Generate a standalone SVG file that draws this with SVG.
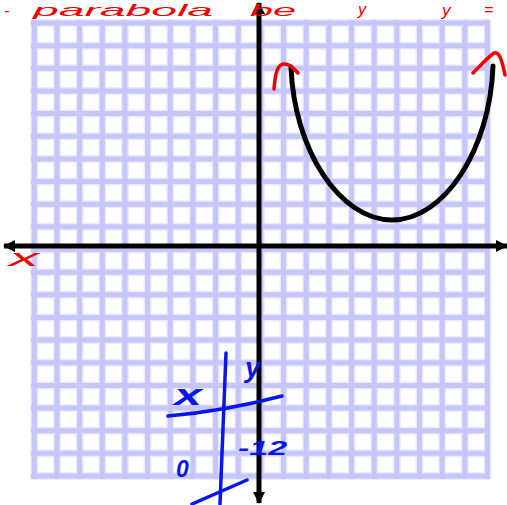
<svg xmlns="http://www.w3.org/2000/svg" width="507" height="505" viewBox="0 0 507 505">
<style>
.gsoft{stroke:#ebebfd;stroke-width:8;fill:none}
.grid{stroke:#c6c6fb;stroke-width:5;fill:none}
.axis{stroke:#000;stroke-width:5;fill:none}
.curve{stroke:#000;stroke-width:5;fill:none;stroke-linecap:round}
.red{stroke:#f20000;stroke-width:3.5;fill:none;stroke-linecap:round;stroke-linejoin:round}
.blue{stroke:#0a14ee;stroke-width:3.5;fill:none;stroke-linecap:round}
.rt{fill:#f20000;font-family:"Liberation Sans",Arial,sans-serif;font-style:italic}
.bt{fill:#0a14ee;font-family:"Liberation Sans",Arial,sans-serif;font-style:italic;font-weight:bold}
</style>
<defs>
<marker id="ah" viewBox="0 0 12 12" refX="11" refY="6" markerWidth="12" markerHeight="12" markerUnits="userSpaceOnUse" orient="auto">
<path d="M0,0 L12,6 L0,12 Z" fill="#000"/>
</marker>
</defs>
<rect width="507" height="505" fill="#fff"/>
<g id="grid">
<path class="gsoft" d="M34.3,20V479M56.96,20V479M79.62,20V479M102.28,20V479M124.94,20V479M147.6,20V479M170.26,20V479M192.92,20V479M215.58,20V479M238.24,20V479M260.9,20V479M283.56,20V479M306.22,20V479M328.88,20V479M351.54,20V479M374.2,20V479M396.86,20V479M419.52,20V479M442.18,20V479M464.84,20V479M487.5,20V479M31,23H490M31,45.65H490M31,68.3H490M31,90.95H490M31,113.6H490M31,136.25H490M31,158.9H490M31,181.55H490M31,204.2H490M31,226.85H490M31,249.5H490M31,272.15H490M31,294.8H490M31,317.45H490M31,340.1H490M31,362.75H490M31,385.4H490M31,408.05H490M31,430.7H490M31,453.35H490M31,476H490"/>
<path class="grid" d="M34.3,20V479M56.96,20V479M79.62,20V479M102.28,20V479M124.94,20V479M147.6,20V479M170.26,20V479M192.92,20V479M215.58,20V479M238.24,20V479M260.9,20V479M283.56,20V479M306.22,20V479M328.88,20V479M351.54,20V479M374.2,20V479M396.86,20V479M419.52,20V479M442.18,20V479M464.84,20V479M487.5,20V479M31,23H490M31,45.65H490M31,68.3H490M31,90.95H490M31,113.6H490M31,136.25H490M31,158.9H490M31,181.55H490M31,204.2H490M31,226.85H490M31,249.5H490M31,272.15H490M31,294.8H490M31,317.45H490M31,340.1H490M31,362.75H490M31,385.4H490M31,408.05H490M31,430.7H490M31,453.35H490M31,476H490"/>
</g>
<g id="axes">
<path class="axis" d="M259,250 V3" marker-end="url(#ah)"/>
<path class="axis" d="M259,250 V503" marker-end="url(#ah)"/>
<path class="axis" d="M259,246 H4" marker-end="url(#ah)"/>
<path class="axis" d="M259,246 H507" marker-end="url(#ah)"/>
</g>
<g id="parabola">
<path class="curve" d="M291,67 C294,150 340,220 392,220 C444,220 490,150 493,66"/>
</g>
<g id="red-notes">
<path class="red" d="M274,89 C275,78 276,68 281,65 C286,62 292,66 298,73"/>
<path class="red" d="M473,73 C480,66 487,58 494,53 C499,51 502,60 505,75"/>
<text class="rt" x="4" y="16" font-size="16">-</text>
<text class="rt" x="33" y="16" font-size="17" textLength="180" lengthAdjust="spacingAndGlyphs">parabola</text>
<text class="rt" x="250" y="16" font-size="17" textLength="46" lengthAdjust="spacingAndGlyphs">be</text>
<text class="rt" x="358" y="15" font-size="16">y</text>
<text class="rt" x="442" y="16" font-size="17">y</text>
<text class="rt" x="484" y="15" font-size="16">=</text>
<text class="rt" x="9" y="266" font-size="24" textLength="30" lengthAdjust="spacingAndGlyphs">x</text>
</g>
<g id="table">
<path class="blue" d="M226,353 L220,504"/>
<path class="blue" d="M168,416 Q225,411 282,396"/>
<path class="blue" d="M192,504 L247,480"/>
<text class="bt" x="174" y="405" font-size="30" textLength="28" lengthAdjust="spacingAndGlyphs">x</text>
<text class="bt" x="245" y="377" font-size="28">y</text>
<text class="bt" x="176" y="477" font-size="23">0</text>
<text class="bt" x="238" y="455" font-size="21" textLength="49" lengthAdjust="spacingAndGlyphs">-12</text>
</g>
</svg>
